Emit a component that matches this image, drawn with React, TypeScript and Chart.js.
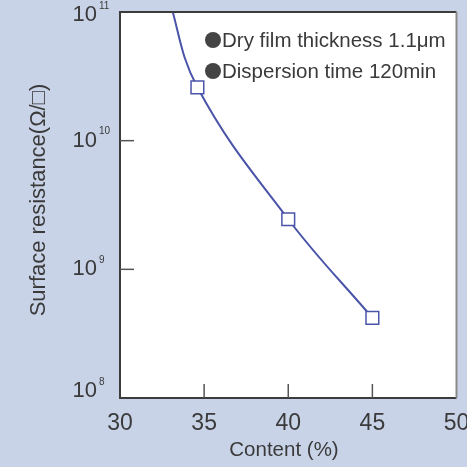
import React, { useEffect, useRef } from "react";
import { Chart, registerables } from "chart.js";

Chart.register(...registerables);

// ---- data ----
const xTicks = [30, 35, 40, 45, 50];
const yTickExponents = [8, 9, 10, 11];
const measuredContent = [34.6, 40, 45];
const measuredResistance = [2.6e10, 2.45e9, 4.2e8];
const curveContent = [32.85, 34.6, 40, 45];
const curveResistance = [1.35e11, 2.6e10, 2.45e9, 4.2e8];
const conditionNotes = ["Dry film thickness 1.1\u03bcm", "Dispersion time 120min"];
const xTitle = "Content (%)";
const yTitle = "Surface resistance(\u03a9/\u25a1)";

const FONT = '"Liberation Sans", Arial, Helvetica, sans-serif';
const BG = "#c9d3e8";
const TEXT = "#3a3a3a";
const LINE = "#4a54a8";

const decorPlugin = {
  id: "decor",
  beforeDraw(chart: any) {
    const { ctx, chartArea: a, width, height } = chart;
    ctx.save();
    ctx.fillStyle = BG;
    ctx.fillRect(0, 0, width, height);
    ctx.fillStyle = "#ffffff";
    ctx.fillRect(a.left, a.top, a.right - a.left, a.bottom - a.top);
    ctx.restore();
  },
  afterDraw(chart: any) {
    const { ctx, chartArea: a } = chart;
    const xs = chart.scales.x;
    const ys = chart.scales.y;
    ctx.save();
    // frame
    ctx.lineWidth = 2;
    ctx.strokeStyle = "#3c3c3c";
    ctx.beginPath();
    ctx.moveTo(a.right, a.top);
    ctx.lineTo(a.left, a.top);
    ctx.lineTo(a.left, a.bottom);
    ctx.lineTo(a.right, a.bottom);
    ctx.stroke();
    ctx.strokeStyle = "#8a8a8a";
    ctx.beginPath();
    ctx.moveTo(a.right, a.top);
    ctx.lineTo(a.right, a.bottom);
    ctx.stroke();

    // inner ticks
    ctx.strokeStyle = "#555555";
    ctx.lineWidth = 1.5;
    xTicks.forEach((v) => {
      if (v === xTicks[0] || v === xTicks[xTicks.length - 1]) return;
      const px = xs.getPixelForValue(v);
      ctx.beginPath();
      ctx.moveTo(px, a.bottom);
      ctx.lineTo(px, a.bottom - 14);
      ctx.stroke();
    });
    yTickExponents.forEach((e, i) => {
      if (i === 0 || i === yTickExponents.length - 1) return;
      const py = ys.getPixelForValue(Math.pow(10, e));
      ctx.beginPath();
      ctx.moveTo(a.left, py);
      ctx.lineTo(a.left + 14, py);
      ctx.stroke();
    });

    // x tick labels
    ctx.fillStyle = TEXT;
    ctx.font = `23px ${FONT}`;
    ctx.textAlign = "center";
    ctx.textBaseline = "middle";
    xTicks.forEach((v) => {
      ctx.fillText(String(v), xs.getPixelForValue(v), 424);
    });

    // y tick labels with superscript exponents
    yTickExponents.forEach((e, i) => {
      let py = ys.getPixelForValue(Math.pow(10, e));
      if (i === 0) py -= 7;
      if (i === yTickExponents.length - 1) py += 3;
      ctx.font = `22px ${FONT}`;
      ctx.textAlign = "right";
      ctx.textBaseline = "middle";
      ctx.fillText("10", 97, py);
      ctx.font = `10px ${FONT}`;
      ctx.textAlign = "left";
      ctx.fillText(String(e), 99, py - 9);
    });

    // axis titles
    ctx.font = `20.5px ${FONT}`;
    ctx.textAlign = "center";
    ctx.textBaseline = "middle";
    ctx.fillText(xTitle, 284, 450);
    ctx.font = `22px ${FONT}`;
    ctx.save();
    ctx.translate(39, 200);
    ctx.rotate(-Math.PI / 2);
    ctx.fillText(yTitle, 0, 0);
    ctx.restore();

    // condition notes
    ctx.font = `20.5px ${FONT}`;
    ctx.textAlign = "left";
    ctx.textBaseline = "middle";
    conditionNotes.forEach((t, i) => {
      const cy = 40 + i * 31;
      ctx.fillStyle = "#444444";
      ctx.beginPath();
      ctx.arc(213, cy, 8, 0, Math.PI * 2);
      ctx.fill();
      ctx.fillStyle = TEXT;
      ctx.fillText(t, 222, cy + 1);
    });
    ctx.restore();
  },
};

export default function App() {
  const ref = useRef<HTMLCanvasElement | null>(null);
  useEffect(() => {
    if (!ref.current) return;
    const chart = new Chart(ref.current, {
      type: "line",
      data: {
        datasets: [
          {
            label: "fit",
            data: curveContent.map((x, i) => ({ x, y: curveResistance[i] })),
            borderColor: LINE,
            borderWidth: 2,
            pointRadius: 0,
            tension: 0.4,
            fill: false,
            order: 2,
          },
          {
            label: "measured",
            data: measuredContent.map((x, i) => ({ x, y: measuredResistance[i] })),
            showLine: false,
            pointStyle: "rect",
            pointRadius: 9,
            pointBorderWidth: 1.5,
            pointBorderColor: LINE,
            pointBackgroundColor: "#ffffff",
            order: 1,
          },
        ],
      },
      options: {
        responsive: false,
        animation: false,
        layout: { padding: { left: 120, top: 12, right: 9, bottom: 69 } },
        plugins: { legend: { display: false }, tooltip: { enabled: false } },
        scales: {
          x: { type: "linear", min: 30, max: 50, display: false },
          y: { type: "logarithmic", min: 1e8, max: 1e11, display: false },
        },
      },
      plugins: [decorPlugin],
    } as any);
    return () => chart.destroy();
  }, []);
  return (
    <div style={{ position: "absolute", left: 0, top: 0, width: 467, height: 467 }}>
      <canvas ref={ref} width={467} height={467} />
    </div>
  );
}
